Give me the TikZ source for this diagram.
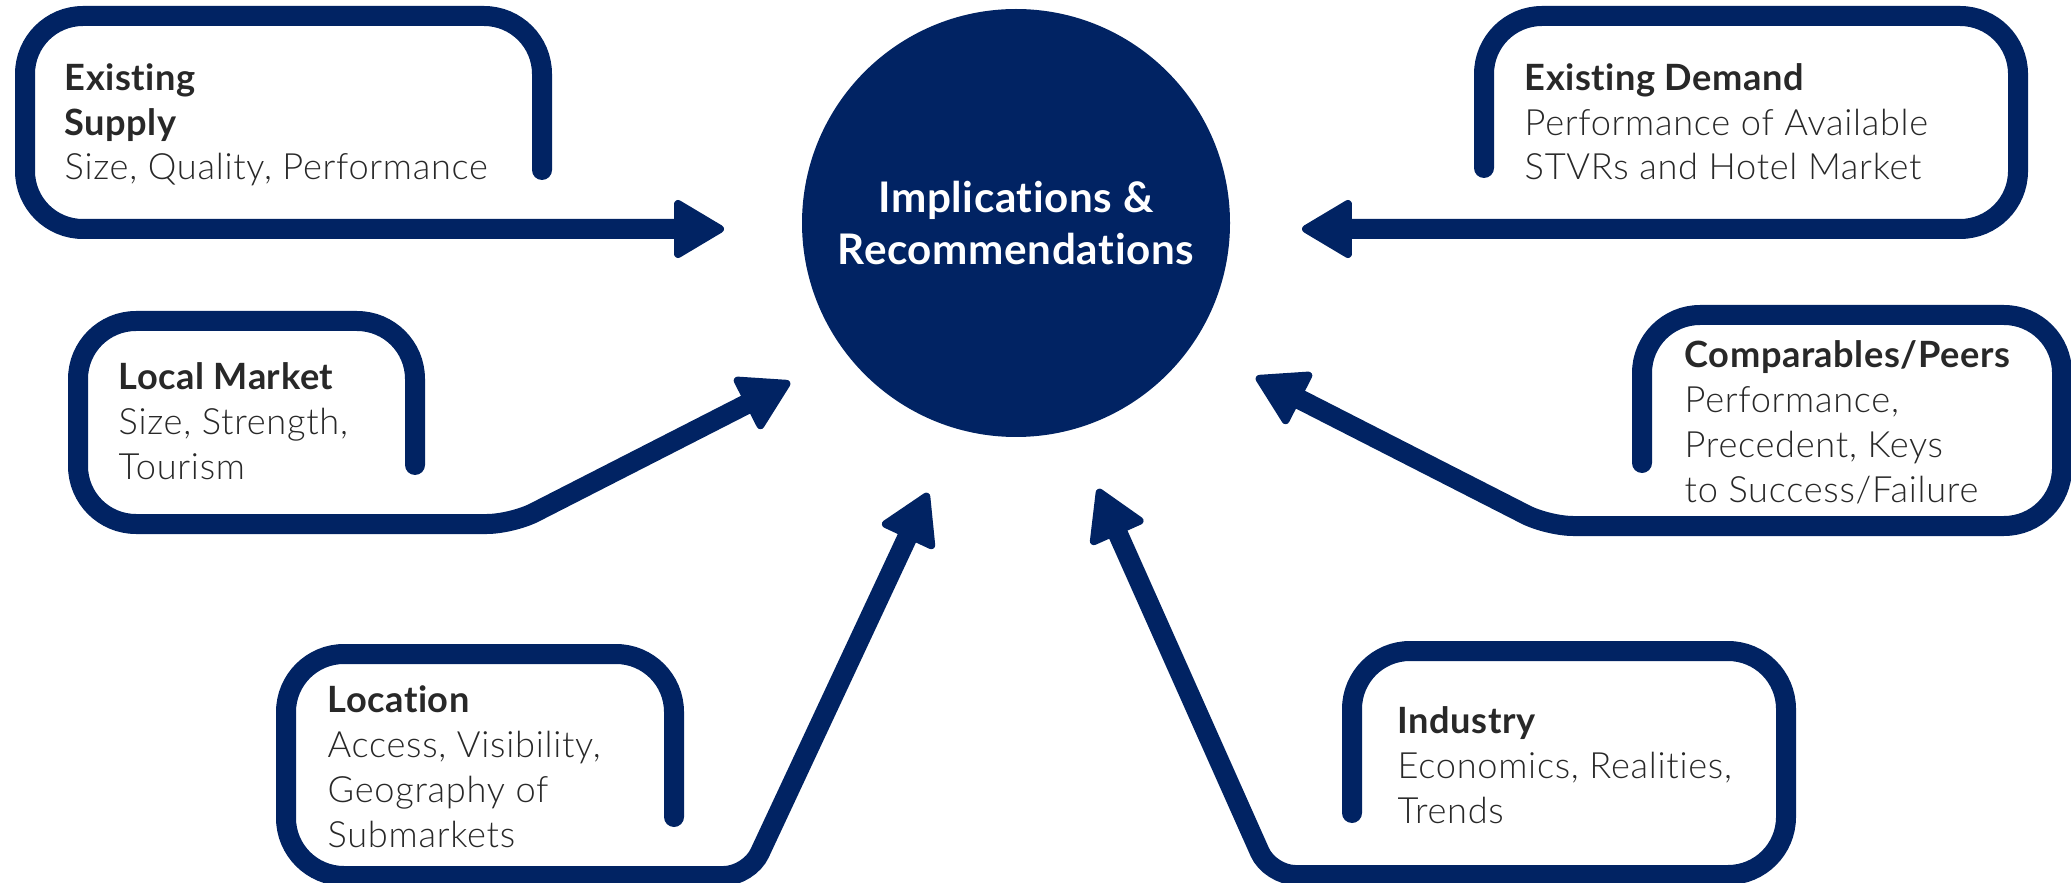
\documentclass[tikz,border=0pt]{standalone}
\usepackage{fontspec}
\setmainfont{Lato}[Ligatures=NoCommon, LetterSpace=1.5]
\newfontfamily\lightfont{Lato Light}[Ligatures=NoCommon, LetterSpace=2]
\usetikzlibrary{arrows.meta}
\definecolor{navy}{RGB}{1,35,99}
\definecolor{ink}{RGB}{40,40,40}

\begin{document}
\begin{tikzpicture}[x=0.1mm, y=-0.1mm,
  feed/.style={draw=navy, line width=2mm, line cap=round, rounded corners=5.8mm,
    -{Triangle[length=5.4mm, width=6.2mm, line width'=0.8mm, round]}},
  note/.style={anchor=base west, align=left, text=ink, inner sep=0pt,
    font=\fontsize{10.3}{12.8}\selectfont}]
  \useasboundingbox (0,0) rectangle (2071,883);

  % Centre circle
  \node[circle, fill=navy, minimum size=42.8mm, inner sep=0pt, text=white, align=center,
    font=\bfseries\fontsize{12}{14.8}\selectfont] (hub) at (1016,223)
    {Implications \&\\Recommendations};

  % Free ends of the loops
  \coordinate (supplystub) at (542,170);
  \coordinate (supplyend) at (724,229);
  \coordinate (demandstub) at (1484,168);
  \coordinate (demandend) at (1302,229);
  \coordinate (marketstub) at (415,465);
  \coordinate (marketend) at (790,382);
  \coordinate (peersstub) at (1642,463);
  \coordinate (peersend) at (1256,377);
  \coordinate (locstub) at (674,817);
  \coordinate (locend) at (928,493);
  \coordinate (indstub) at (1352,813);
  \coordinate (indend) at (1098,489);

  % Loops into the circle
  \draw[feed] (supplystub) -- (542,16) -- (25,16) -- (25,229) -- (supplyend);
  \draw[feed] (demandstub) -- (1484,16) -- (2018,16) -- (2018,229) -- (demandend);
  \draw[feed] (marketstub) -- (415,321) -- (78,321) -- (78,524)
    [rounded corners=2.5mm] -- (512,524) -- (marketend);
  \draw[feed] (peersstub) -- (1642,315) -- (2062,315) -- (2062,526)
    [rounded corners=2.5mm] -- (1548,526) -- (peersend);
  \draw[feed] (locstub) -- (674,654) -- (286,654) -- (286,876)
    [rounded corners=2.5mm] -- (749,876) -- (locend);
  \draw[feed] (indstub) -- (1352,651) -- (1786,651) -- (1786,875)
    [rounded corners=2.5mm] -- (1270,875) -- (indend);

  % Texts (anchored on the last line)
  \node[note] (supplytxt) at (64,180)
    {\textbf{Existing}\\\textbf{Supply}\\{\lightfont Size, Quality, Performance}};
  \node[note] (demandtxt) at (1524,180)
    {\textbf{Existing Demand}\\{\lightfont Performance of Available}\\{\lightfont STVRs and Hotel Market}};
  \node[note] (markettxt) at (118,479)
    {\textbf{Local Market}\\{\lightfont Size, Strength,}\\{\lightfont Tourism}};
  \node[note] (peerstxt) at (1684,502)
    {\textbf{Comparables/Peers}\\{\lightfont Performance,}\\{\lightfont Precedent, Keys}\\{\lightfont to Success/Failure}};
  \node[note] (loctxt) at (327,847)
    {\textbf{Location}\\{\lightfont Access, Visibility,}\\{\lightfont Geography of}\\{\lightfont Submarkets}};
  \node[note] (indtxt) at (1397,823)
    {\textbf{Industry}\\{\lightfont Economics, Realities,}\\{\lightfont Trends}};
\end{tikzpicture}
\end{document}
